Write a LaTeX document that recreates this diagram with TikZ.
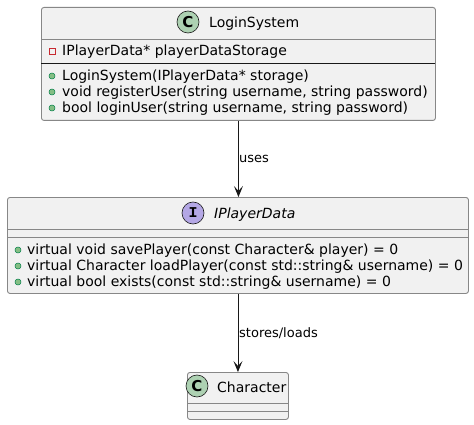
\documentclass[tikz,border=0pt]{standalone}
\usepackage{fontspec}
\setmainfont{DejaVu Sans}
\newfontfamily\monof{Liberation Mono}
\usetikzlibrary{arrows.meta}
\definecolor{boxfill}{HTML}{F1F1F1}
\definecolor{boxline}{HTML}{878787}
\definecolor{darkline}{HTML}{181818}
\definecolor{cfill}{HTML}{ADD1B2}
\definecolor{ifill}{HTML}{B4A7E5}
\definecolor{pubfill}{HTML}{84BE84}
\definecolor{publine}{HTML}{038048}
\definecolor{privline}{HTML}{C82930}
\tikzset{
  umlbox/.style={draw=boxline, fill=boxfill, line width=0.9pt, rounded corners=2.5pt, inner sep=0, anchor=north west},
  sepline/.style={draw=boxline, line width=0.9pt},
  darksep/.style={draw=darkline, line width=0.8pt},
  icon/.style={circle, draw=darkline, line width=0.6pt, minimum size=22pt, inner sep=0},
  membertxt/.style={anchor=base west, inner sep=0, font=\fontsize{14}{16}\selectfont, text=black},
  titletxt/.style={anchor=base west, inner sep=0, font=\fontsize{14}{16}\selectfont, text=black},
  labeltxt/.style={anchor=base west, inner sep=0, font=\fontsize{13}{15}\selectfont, text=black},
  pubdot/.style={circle, draw=publine, fill=pubfill, line width=0.5pt, minimum size=6pt, inner sep=0},
  privsq/.style={rectangle, draw=privline, line width=0.7pt, minimum size=6pt, inner sep=0},
  umlarrow/.style={draw=darkline, line width=0.8pt, -{Stealth[length=11pt,width=9pt,inset=5pt]}}
}
\begin{document}
\begin{tikzpicture}[x=1pt,y=-1pt]
\useasboundingbox (0,0) rectangle (474,425);
% LoginSystem
\node[umlbox, minimum width=394pt, minimum height=113pt] (login) at (41,7) {};
\draw[sepline] (41,39) -- (435,39);
\draw[darksep] (41,63) -- (435,63);
\node[icon, fill=cfill, font=\fontsize{15}{15}\selectfont\bfseries] (loginicon) at (188,22) {C};
\node[titletxt] (logintitle) at (209,28) {LoginSystem};
\node[privsq] (lp1) at (52,51) {};
\node[membertxt] (la1) at (62,56) {IPlayerData* playerDataStorage};
\node[pubdot] (lm1d) at (52,76) {};
\node[membertxt] (lm1) at (62,81) {LoginSystem(IPlayerData* storage)};
\node[pubdot] (lm2d) at (52,92) {};
\node[membertxt] (lm2) at (62,97) {void registerUser(string username, string password)};
\node[pubdot] (lm3d) at (52,108) {};
\node[membertxt] (lm3) at (62,113) {bool loginUser(string username, string password)};
% IPlayerData
\node[umlbox, minimum width=461pt, minimum height=96pt] (ipd) at (7,197) {};
\draw[sepline] (7,229) -- (468,229);
\draw[sepline] (7,237) -- (468,237);
\node[icon, fill=ifill, font=\fontsize{15}{15}\selectfont\monof\bfseries] (ipdicon) at (193,213) {I};
\node[titletxt, font=\fontsize{14}{16}\selectfont\itshape] (ipdtitle) at (214,218) {IPlayerData};
\node[pubdot] (im1d) at (18,250) {};
\node[membertxt] (im1) at (27,254) {virtual void savePlayer(const Character\& player) = 0};
\node[pubdot] (im2d) at (18,266) {};
\node[membertxt] (im2) at (27,270) {virtual Character loadPlayer(const std::string\& username) = 0};
\node[pubdot] (im3d) at (18,282) {};
\node[membertxt] (im3) at (27,286) {virtual bool exists(const std::string\& username) = 0};
% Character
\node[umlbox, minimum width=101pt, minimum height=47pt] (chr) at (187,372) {};
\draw[sepline] (187,403) -- (288,403);
\draw[sepline] (187,411) -- (288,411);
\node[icon, fill=cfill, font=\fontsize{15}{15}\selectfont\bfseries] (chricon) at (197,386) {C};
\node[titletxt] (chrtitle) at (217,392) {Character};
% connectors
\draw[umlarrow] (login.south) -- (login.south |- ipd.north);
\node[labeltxt] (uses) at (239,163) {uses};
\draw[umlarrow] (ipd.south) -- (ipd.south |- chr.north);
\node[labeltxt] (stores) at (239,337) {stores/loads};
\end{tikzpicture}
\end{document}
